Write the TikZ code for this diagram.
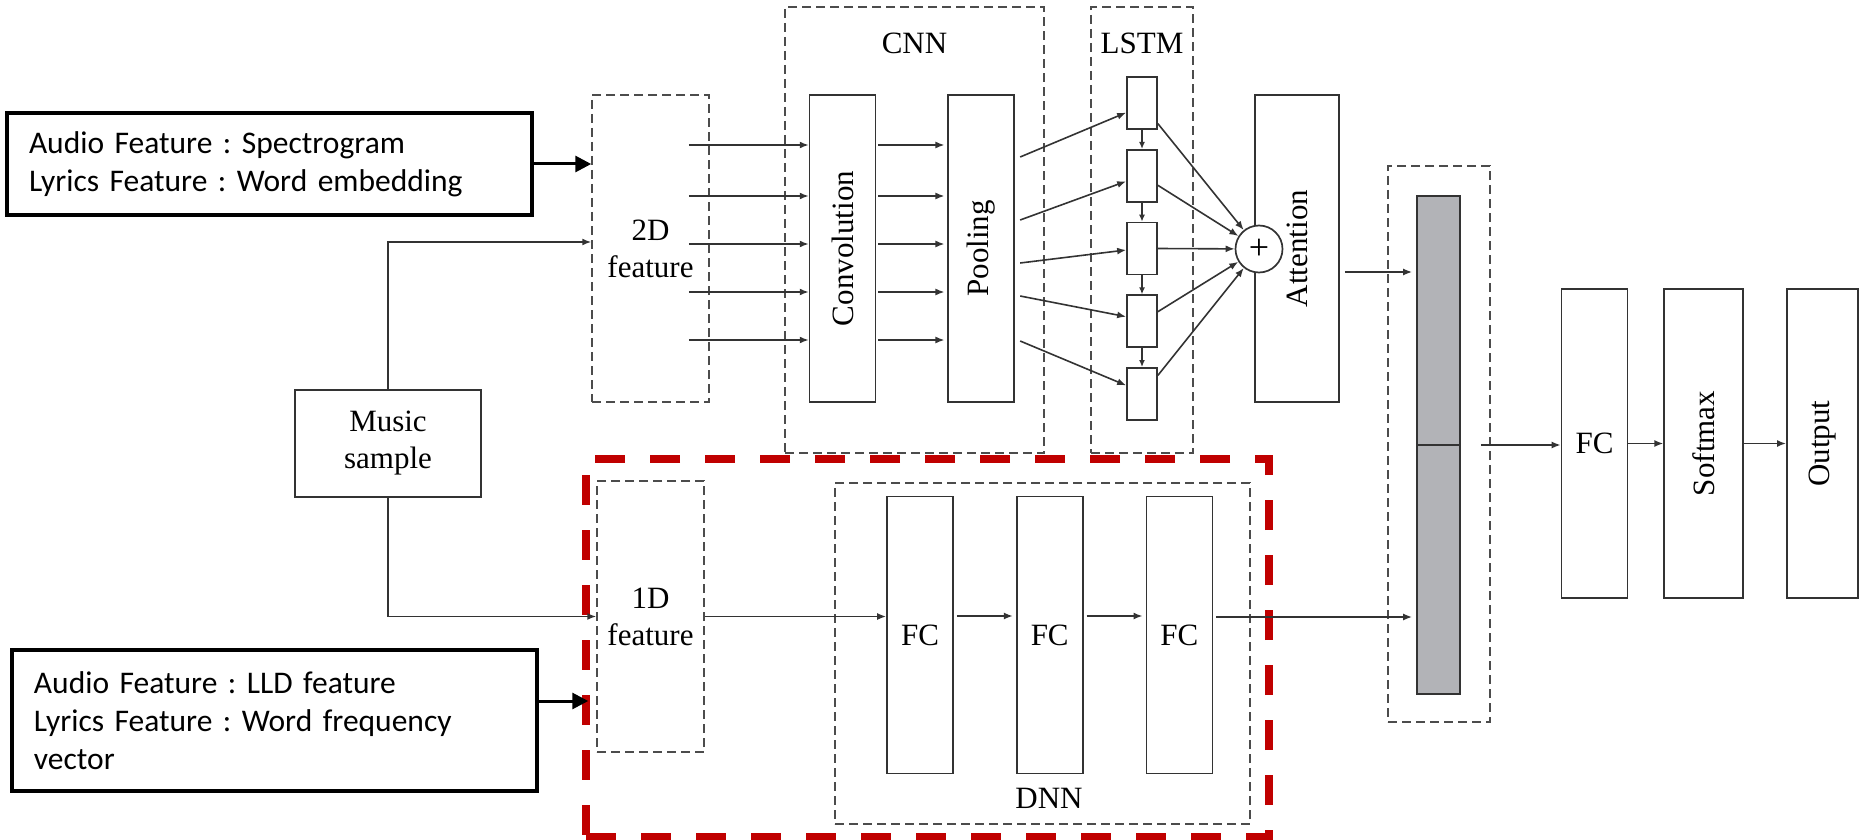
\documentclass[tikz,border=0pt]{standalone}
\usepackage{fontspec}
\setmainfont{Liberation Serif}
\newfontfamily\calloutfont{Carlito}
\usetikzlibrary{arrows.meta, positioning}
\frenchspacing
\definecolor{bargrey}{RGB}{178,179,183}
\definecolor{hlred}{RGB}{192,0,0}
\tikzstyle{layer} = [rectangle, draw=black!80, line width=1.7pt, minimum width=66pt, minimum height=307pt, inner sep=0pt, align=center, font=\fontsize{31}{37}\selectfont]
\tikzstyle{cell} = [rectangle, draw=black!80, line width=1.7pt, minimum width=30pt, minimum height=52pt, inner sep=0pt]
\tikzstyle{group} = [rectangle, draw=black!70, line width=1.5pt, dash pattern=on 9pt off 5pt, inner sep=0pt, align=center, font=\fontsize{31}{37}\selectfont]
\tikzstyle{callout} = [rectangle, draw=black, line width=3.5pt, minimum height=102pt, text width=481pt, inner xsep=22pt, align=left, font=\calloutfont\fontsize{31.5}{38}\selectfont]
\tikzstyle{lbl} = [font=\fontsize{31}{37}\selectfont]
\tikzstyle{arrow} = [line width=1.6pt, draw=black!80, -{Latex[length=9pt,width=7pt]}]
\tikzstyle{bigarrow} = [line width=3pt, -{Triangle[length=16pt,width=16pt]}]
\tikzstyle{highlight} = [rectangle, draw=hlred, line width=8pt, dash pattern=on 30pt off 25pt]

\begin{document}
\begin{tikzpicture}[x=1pt, y=-1pt]
        \useasboundingbox (0,0) rectangle (1864,840);

        % Inputs
        \node (specbox) [callout] at (269.5,164) {Audio Feature : Spectrogram\\Lyrics Feature : Word embedding};
        \node (lldbox) [callout, minimum height=141pt] at (274.5,720.5) {Audio Feature : LLD feature\\Lyrics Feature : Word frequency\\vector};
        \node (music) [layer, minimum width=186pt, minimum height=107pt] at (388,443.5) {Music\\sample};
        \node (feat2d) [group, minimum width=117pt, minimum height=307pt] at (650.5,248.5) {2D\\feature};
        \node (feat1d) [group, minimum width=107pt, minimum height=271pt] at (650.5,616.5) {1D\\feature};

        % CNN
        \node (conv) [layer, right=99pt of feat2d] {\rotatebox{90}{Convolution}};
        \node (pool) [layer, right=71pt of conv] {\rotatebox{90}{Pooling}};
        \node (cnnbox) [group, minimum width=259pt, minimum height=446pt] at (914.5,230) {};
        \node (cnnlbl) [lbl] at (914.5,43) {CNN};

        % LSTM
        \node (cell3) [cell] at (1142,248.5) {};
        \node (cell2) [cell, above=19pt of cell3] {};
        \node (cell1) [cell, above=19pt of cell2] {};
        \node (cell4) [cell, below=19pt of cell3] {};
        \node (cell5) [cell, below=19pt of cell4] {};
        \node (lstmbox) [group, minimum width=102pt, minimum height=446pt] at (1142,230) {};
        \node (lstmlbl) [lbl] at (1142,43) {LSTM};

        % Attention
        \node (attn) [layer, minimum width=84pt] at (1297,248.5) {\rotatebox{90}{Attention}};
        \node (plus) [circle, draw=black!80, line width=1.7pt, fill=white, minimum size=47pt, inner sep=0pt, font=\fontsize{36}{36}\selectfont] at (1259,249) {+};

        % DNN
        \node (fc1) [layer, minimum height=277pt] at (920,635) {FC};
        \node (fc2) [layer, minimum height=277pt, right=62pt of fc1] {FC};
        \node (fc3) [layer, minimum height=277pt, right=62pt of fc2] {FC};
        \node (dnnbox) [group, minimum width=415pt, minimum height=341pt] at (1042.5,653.5) {};
        \node (dnnlbl) [lbl] at (1049,798) {DNN};

        % Fusion and output
        \node (catbox) [group, minimum width=102pt, minimum height=556pt] at (1439,444) {};
        \node (bar) [rectangle, draw=black!80, line width=1.7pt, fill=bargrey, minimum width=43pt, minimum height=498pt] at (1438.5,445) {};
        \draw [line width=1.7pt, draw=black!80] (bar.west) -- (bar.east);
        \node (fc) [layer, minimum height=309pt] at (1594.5,443.5) {FC};
        \node (softmax) [layer, minimum width=79pt, minimum height=309pt, right=35pt of fc] {\rotatebox{90}{Softmax}};
        \node (output) [layer, minimum width=71pt, minimum height=309pt, right=42pt of softmax] {\rotatebox{90}{Output}};

        % Highlight
        \node (redbox) [highlight, minimum width=683pt, minimum height=378pt] at (927.5,648) {};

        % Arrows
        \draw [bigarrow] (specbox.east) -- (specbox.east -| feat2d.west);
        \draw [bigarrow, shorten >=8pt] ([yshift=19.5pt]lldbox.east) -- ([yshift=19.5pt]lldbox.east -| feat1d.west);
        \draw [arrow] (music.north) |- ([yshift=6.5pt]feat2d.west);
        \draw [arrow] (music.south) |- (feat1d.west);
        \foreach \y in {145,196,244,292,340} {
            \draw [arrow] (feat2d.east |- 0,\y) ++(-21pt,0) -- (conv.west |- 0,\y);
            \draw [arrow, shorten <=2pt, shorten >=3pt] (conv.east |- 0,\y) -- (pool.west |- 0,\y);
        }
        \foreach \i/\y/\s in {1/157/-9.5, 2/220/-5.5, 3/263/-1.5, 4/296/4.5, 5/341/8.5}
            \draw [arrow] (pool.east |- 0,\y) ++(5pt,0) -- ([yshift=\s pt]cell\i.west);
        \foreach \i/\j in {1/2, 2/3, 3/4, 4/5}
            \draw [arrow, -{Latex[length=7pt,width=6pt]}] (cell\i) -- (cell\j);
        \foreach \i/\s in {1/-20.5, 2/-9.5, 3/0, 4/9.5, 5/18.5}
            \draw [arrow] ([yshift=\s pt]cell\i.east) -- (plus);
        \draw [arrow, shorten <=5pt, shorten >=4pt] ([yshift=-23.5pt]attn.east) -- ([yshift=-23.5pt]attn.east -| bar.west);
        \draw [arrow] (feat1d.east) -- (feat1d.east -| fc1.west);
        \draw [arrow, shorten <=3pt, shorten >=3pt] ([yshift=19pt]fc1.east) -- ([yshift=19pt]fc1.east -| fc2.west);
        \draw [arrow, shorten <=3pt, shorten >=3pt] ([yshift=19pt]fc2.east) -- ([yshift=19pt]fc2.east -| fc3.west);
        \draw [arrow, shorten <=3pt, shorten >=4pt] ([yshift=18pt]fc3.east) -- ([yshift=18pt]fc3.east -| bar.west);
        \draw [arrow] ([xshift=20pt]bar.east) -- (bar.east -| fc.west);
        \draw [arrow] (fc) -- (softmax);
        \draw [arrow] (softmax) -- (output);
\end{tikzpicture}
\end{document}
